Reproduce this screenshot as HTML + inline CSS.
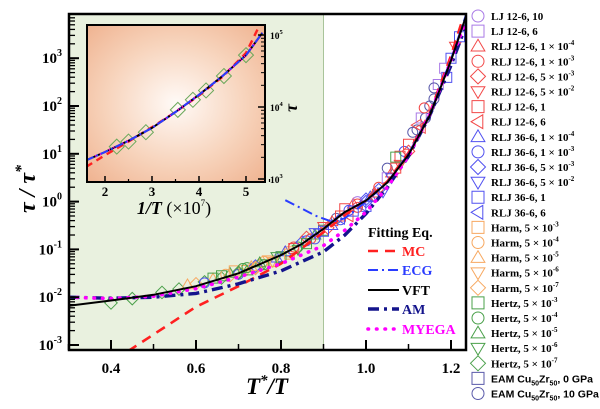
<!DOCTYPE html>
<html><head><meta charset="utf-8"><style>
html,body{margin:0;padding:0;background:#fff;}
svg{display:block;font-family:"Liberation Serif",serif;}
</style></head><body>
<svg id="chart" width="600" height="409" viewBox="0 0 600 409" xmlns="http://www.w3.org/2000/svg">
<defs>
<radialGradient id="insetBg" cx="0.5" cy="0.5" r="0.72">
<stop offset="0" stop-color="#fffaf7"/>
<stop offset="0.55" stop-color="#f7d3bb"/>
<stop offset="1" stop-color="#efb18e"/>
</radialGradient>
<clipPath id="mainClip"><rect x="69" y="14" width="397" height="336"/></clipPath>
<clipPath id="insetClip"><rect x="87" y="25" width="178" height="157"/></clipPath>
</defs>
<g id="plotBg">
<rect x="69" y="14" width="397" height="336" fill="#fff"/>
<rect id="greenRegion" x="69" y="14" width="254" height="336" fill="#e9f1df"/>
<line x1="323.5" y1="14" x2="323.5" y2="350" stroke="#a9c49a" stroke-width="1"/>
</g>
<g id="points" clip-path="url(#mainClip)"></g>
<g id="curves" clip-path="url(#mainClip)"></g>
<g id="axes"></g>
<g id="inset"></g>
<g id="fitLegend">
<text x="368" y="237" font-size="14" font-weight="bold">Fitting Eq.</text>
</g>
<g id="legend"></g>
<text transform="translate(35,189) rotate(-90)" text-anchor="middle" font-size="24" font-weight="bold" font-style="italic">τ / τ<tspan font-size="16" dy="-9">*</tspan></text>
<text x="267" y="394" text-anchor="middle" font-size="23" font-weight="bold" font-style="italic">T<tspan font-size="15" dy="-9">*</tspan><tspan dy="9">/T</tspan></text>
</svg>
<script>
// ---- main curve data (T*/T, log10 tau/tau*) ----
const vftU = [0.30,0.40,0.50,0.60,0.70,0.80,0.85,0.90,0.95,1.00,1.05,1.10,1.15,1.20,1.237];
const vftLog = [-2.18,-2.07,-1.95,-1.77,-1.50,-1.12,-0.88,-0.57,-0.22,0.02,0.40,0.98,1.80,2.95,3.92];
const mcU = [0.44,0.50,0.60,0.70,0.80,0.90,0.95,1.00,1.05,1.10,1.15,1.20,1.225];
const mcLog = [-3.13,-2.78,-2.20,-1.77,-1.30,-0.64,-0.28,0.02,0.42,1.02,1.85,3.05,3.75];
const ecgU = [0.81,0.85,0.88,0.92,0.95,1.00,1.05,1.10,1.15,1.20,1.235];
const ecgLog = [0.03,-0.15,-0.29,-0.42,-0.35,0.00,0.40,1.00,1.82,2.98,3.90];
const amU = [0.30,0.40,0.50,0.60,0.70,0.80,0.90,0.95,1.00,1.05,1.10,1.15,1.20,1.24];
const amLog = [-2.00,-2.02,-2.00,-1.92,-1.72,-1.45,-1.05,-0.70,-0.25,0.30,0.95,1.80,2.85,3.80];
const myU = [0.30,0.40,0.50,0.60,0.70,0.80,0.90,0.95,1.00,1.05,1.10,1.15,1.20,1.24];
const myLog = [-2.00,-2.03,-1.98,-1.82,-1.58,-1.30,-0.92,-0.60,-0.22,0.30,0.95,1.82,2.95,3.90];
// ---- scatter data ----
const ptU = [0.40,0.45,0.52,0.56,0.62,0.66,0.70,0.60,0.68,0.74,0.58,0.64,0.72,0.78,0.64,0.68,0.72,0.76,0.80,0.84,0.88,0.90,0.62,0.70,0.86,0.94,1.02,1.09,0.93,1.05,1.12,1.14,0.95,0.97,1.00,1.03,1.05,1.06,1.08,1.10,1.11,1.12,1.13,1.15,1.16,1.17,1.20,1.19,1.08,1.04,1.00,0.98,1.02,1.185,1.16,1.137,1.07,0.82,0.76,0.87,0.91,0.99,0.74,0.79,0.83,1.21,1.22,0.96,0.89,0.67,
 0.66,0.69,0.71,0.73,0.75,0.77,0.79,0.81,0.83,0.85,0.86,0.88,0.90,0.92,0.94,0.96,0.98,1.01,1.03,1.06,0.70,0.74,0.78,0.82,0.86,0.90,0.94,0.98,1.02,1.07,1.10,1.13,0.72,0.76,0.80,0.84,0.88,0.92,0.97,1.00];
const ptLog = [-2.12,-2.03,-1.90,-1.83,-1.68,-1.60,-1.50,-1.72,-1.55,-1.40,-1.74,-1.62,-1.42,-1.25,-1.60,-1.50,-1.38,-1.30,-1.15,-0.95,-0.70,-0.60,-1.70,-1.52,-0.82,-0.38,0.10,1.05,-0.35,0.70,1.50,1.75,-0.15,-0.05,0.05,0.30,0.50,0.60,0.95,1.20,1.45,1.60,1.75,2.00,2.15,2.45,3.00,2.60,0.78,0.20,-0.10,0.00,0.12,2.79,2.38,1.96,0.93,-1.05,-1.25,-0.78,-0.55,-0.08,-1.35,-1.18,-0.98,3.25,3.45,-0.30,-0.66,-1.52,
 -1.55,-1.45,-1.40,-1.36,-1.28,-1.22,-1.15,-1.05,-0.95,-0.85,-0.75,-0.65,-0.52,-0.42,-0.30,-0.18,-0.05,0.10,0.25,0.50,-1.48,-1.38,-1.26,-1.10,-0.88,-0.62,-0.35,-0.12,0.18,0.70,1.05,1.55,-1.45,-1.32,-1.18,-1.00,-0.78,-0.50,-0.20,0.00];
const ptSeries = [23,23,23,23,23,23,23,18,18,18,16,16,17,17,19,21,20,22,19,20,21,19,9,9,9,9,9,9,25,25,25,25,6,2,10,3,1,2,6,6,25,7,1,25,25,1,12,12,5,11,12,0,4,1,25,3,19,14,15,3,4,13,10,8,6,5,12,7,11,15,
 19,14,20,16,21,17,22,8,3,10,4,11,5,2,6,9,3,8,10,11,23,18,15,14,19,12,13,3,2,6,4,7,21,20,19,22,9,8,12,10];
// ---- inset data ----
const inX = [1.60,2.00,2.50,3.00,3.50,4.00,4.50,5.00,5.35];
const inLog = [3.26,3.375,3.53,3.71,3.93,4.17,4.43,4.72,5.03];
const inMcX = [1.60,2.00,2.50,3.00,3.50,4.00,4.50,5.00,5.30];
const inMcLog = [3.17,3.33,3.52,3.72,3.93,4.16,4.42,4.75,5.15];
const inPtX = [2.25,2.50,2.87,3.55,3.87,4.15,4.53,5.00];
const inPtLog = [3.45,3.52,3.65,3.96,4.10,4.23,4.43,4.72];
// ---- legend data ----
const legNames = ["LJ 12-6, 10","LJ 12-6, 6","RLJ 12-6, 1 × 10|-4","RLJ 12-6, 1 × 10|-3","RLJ 12-6, 5 × 10|-3","RLJ 12-6, 5 × 10|-2","RLJ 12-6, 1","RLJ 12-6, 6","RLJ 36-6, 1 × 10|-4","RLJ 36-6, 1 × 10|-3","RLJ 36-6, 5 × 10|-3","RLJ 36-6, 5 × 10|-2","RLJ 36-6, 1","RLJ 36-6, 6","Harm, 5 × 10|-3","Harm, 5 × 10|-4","Harm, 5 × 10|-5","Harm, 5 × 10|-6","Harm, 5 × 10|-7","Hertz, 5 × 10|-3","Hertz, 5 × 10|-4","Hertz, 5 × 10|-5","Hertz, 5 × 10|-6","Hertz, 5 × 10|-7","EAM","EAM"];
const legColors = ["#a97ae6","#a97ae6","#f24848","#f24848","#f24848","#f24848","#f24848","#f24848","#5050f0","#5050f0","#5050f0","#5050f0","#5050f0","#5050f0","#f7a860","#f7a860","#f7a860","#f7a860","#f7a860","#4aa04a","#4aa04a","#4aa04a","#4aa04a","#4aa04a","#5a5aaa","#5a5aaa"];
const legShapes = ["circle","square","up","circle","diamond","down","square","left","up","circle","diamond","down","square","left","square","circle","up","down","diamond","square","circle","up","down","diamond","square","circle"];

const NS="http://www.w3.org/2000/svg";
function xS(u){return 111+(u-0.4)*425;}
function yS(l){return 345-(l+3)*47.8;}
function ixS(v){return 105+(v-2)*47;}
function iyS(l){return 179-(l-3)*72;}
function mk(tag,parent){const e=document.createElementNS(NS,tag);parent.appendChild(e);return e;}
function shapePath(s,cx,cy,r){
 if(s==="square")return `M${cx-r},${cy-r}h${2*r}v${2*r}h${-2*r}Z`;
 if(s==="up")return `M${cx},${cy-r*1.15}L${cx+r*1.15},${cy+r*0.8}L${cx-r*1.15},${cy+r*0.8}Z`;
 if(s==="down")return `M${cx},${cy+r*1.15}L${cx+r*1.15},${cy-r*0.8}L${cx-r*1.15},${cy-r*0.8}Z`;
 if(s==="left")return `M${cx-r*1.15},${cy}L${cx+r*0.8},${cy-r*1.15}L${cx+r*0.8},${cy+r*1.15}Z`;
 if(s==="diamond")return `M${cx},${cy-r*1.25}L${cx+r*1.25},${cy}L${cx},${cy+r*1.25}L${cx-r*1.25},${cy}Z`;
 return `M${cx-r},${cy}a${r},${r} 0 1,0 ${2*r},0a${r},${r} 0 1,0 ${-2*r},0Z`;
}
function linePath(xs,ys,fx,fy){return xs.map((v,i)=>(i?"L":"M")+fx(v).toFixed(1)+","+fy(ys[i]).toFixed(1)).join("");}

// points
const pg=document.getElementById("points");
ptU.forEach((u,i)=>{
 const s=ptSeries[i];
 const p=mk("path",pg);
 
 
 p.setAttribute("d",shapePath(legShapes[s],xS(u),yS(ptLog[i]),5));
 p.setAttribute("fill","none");p.setAttribute("stroke",legColors[s]);p.setAttribute("stroke-width","1");
});
// curves
const cg=document.getElementById("curves");
const curveDefs=[
 {u:mcU,l:mcLog,c:"#ff2020",w:2.6,d:"10,7",n:"mc-curve",lc:"butt"},
 {u:ecgU,l:ecgLog,c:"#2a3cff",w:2,d:"10,4,2,4",n:"ecg-curve",lc:"butt"},
 {u:amU,l:amLog,c:"#14148c",w:3.4,d:"11,5,3,5",n:"am-curve",lc:"butt"},
 {u:myU,l:myLog,c:"#ff00ff",w:3.6,d:"0.5,8",n:"myega-curve",lc:"round"},
 {u:vftU,l:vftLog,c:"#000",w:2,d:"",n:"vft-curve",lc:"butt"}
];
curveDefs.forEach(cd=>{
 const p=mk("path",cg);
 
 
 p.setAttribute("d",linePath(cd.u,cd.l,xS,yS));
 p.setAttribute("fill","none");p.setAttribute("stroke",cd.c);p.setAttribute("stroke-width",cd.w);
 p.setAttribute("stroke-linecap",cd.lc);
 if(cd.d)p.setAttribute("stroke-dasharray",cd.d);
});
// axes
const ag=document.getElementById("axes");
const frame=mk("rect",ag);


frame.setAttribute("x",69);frame.setAttribute("y",14);frame.setAttribute("width",397);frame.setAttribute("height",336);
frame.setAttribute("fill","none");frame.setAttribute("stroke","#000");frame.setAttribute("stroke-width","2.5");
const xTicks=[0.4,0.6,0.8,1.0,1.2];
const xMinor=[0.3,0.5,0.7,0.9,1.1];
xTicks.forEach(t=>{
 const l=mk("line",ag);
 
 
 l.setAttribute("x1",xS(t));l.setAttribute("x2",xS(t));l.setAttribute("y1",350);l.setAttribute("y2",340);l.setAttribute("stroke","#000");l.setAttribute("stroke-width",2);
 const tx=mk("text",ag);
 
 
 tx.setAttribute("x",xS(t));tx.setAttribute("y",373);tx.setAttribute("text-anchor","middle");tx.setAttribute("font-size","15");tx.setAttribute("font-weight","bold");
 tx.textContent=t.toFixed(1);
});
xMinor.forEach(t=>{
 const l=mk("line",ag);
 
 
 l.setAttribute("x1",xS(t));l.setAttribute("x2",xS(t));l.setAttribute("y1",350);l.setAttribute("y2",344);l.setAttribute("stroke","#000");l.setAttribute("stroke-width",1.5);
});
const yDecades=[-3,-2,-1,0,1,2,3];
yDecades.forEach(d=>{
 const y=yS(d);
 const l=mk("line",ag);
 
 
 l.setAttribute("x1",69);l.setAttribute("x2",79);l.setAttribute("y1",y);l.setAttribute("y2",y);l.setAttribute("stroke","#000");l.setAttribute("stroke-width",2);
 const tx=mk("text",ag);
 
 
 tx.setAttribute("x",62);tx.setAttribute("y",y+5);tx.setAttribute("text-anchor","end");tx.setAttribute("font-size","15");tx.setAttribute("font-weight","bold");
 tx.innerHTML='10<tspan font-size="10" dy="-7">'+d+'</tspan>';
 for(let k=2;k<10;k++){
  const ym=yS(d+Math.log10(k));
  if(ym<16)continue;
  const m=mk("line",ag);
  
  
  m.setAttribute("x1",69);m.setAttribute("x2",75);m.setAttribute("y1",ym);m.setAttribute("y2",ym);m.setAttribute("stroke","#000");m.setAttribute("stroke-width",1.3);
 }
});
// inset
const ig=document.getElementById("inset");
const ibg=mk("rect",ig);


ibg.setAttribute("x",87);ibg.setAttribute("y",25);ibg.setAttribute("width",178);ibg.setAttribute("height",157);ibg.setAttribute("fill","url(#insetBg)");
const icg=mk("g",ig);icg.setAttribute("clip-path","url(#insetClip)");
inPtX.forEach((v,i)=>{
 const p=mk("path",icg);
 
 
 p.setAttribute("d",shapePath("diamond",ixS(v),iyS(inPtLog[i]),6));
 p.setAttribute("fill","none");p.setAttribute("stroke","#6aa85a");p.setAttribute("stroke-width","1");
});
[["#ff2020",2.4,"7,5",inMcX,inMcLog,"inset-mc-curve"],["#000",2,"",inX,inLog,"inset-vft-curve"],["#ff00ff",2.5,"1,4",inX,inLog,"inset-myega-curve"],["#2a3cff",2,"8,3,2,3",inX,inLog,"inset-ecg-curve"]].forEach(c=>{
 const p=mk("path",icg);
 
 
 p.setAttribute("d",linePath(c[3],c[4],ixS,iyS));p.setAttribute("fill","none");p.setAttribute("stroke",c[0]);p.setAttribute("stroke-width",c[1]);if(c[2])p.setAttribute("stroke-dasharray",c[2]);
});
const ifr=mk("rect",ig);


ifr.setAttribute("x",87);ifr.setAttribute("y",25);ifr.setAttribute("width",178);ifr.setAttribute("height",157);ifr.setAttribute("fill","none");ifr.setAttribute("stroke","#000");ifr.setAttribute("stroke-width","2");
const inXTicks=[2,3,4,5];
inXTicks.forEach(t=>{
 const l=mk("line",ig);
 
 
 l.setAttribute("x1",ixS(t));l.setAttribute("x2",ixS(t));l.setAttribute("y1",182);l.setAttribute("y2",176);l.setAttribute("stroke","#000");l.setAttribute("stroke-width",1.5);
 const m=mk("line",ig);
 
 
 m.setAttribute("x1",ixS(t+0.5));m.setAttribute("x2",ixS(t+0.5));m.setAttribute("y1",182);m.setAttribute("y2",179);m.setAttribute("stroke","#000");m.setAttribute("stroke-width",1.2);
 const tx=mk("text",ig);
 
 
 tx.setAttribute("x",ixS(t));tx.setAttribute("y",196);tx.setAttribute("text-anchor","middle");tx.setAttribute("font-size","13");tx.setAttribute("font-weight","bold");tx.textContent=t;
});
const inYTicks=[3,4,5];
inYTicks.forEach(d=>{
 const y=iyS(d);
 const l=mk("line",ig);
 
 
 l.setAttribute("x1",265);l.setAttribute("x2",258);l.setAttribute("y1",y);l.setAttribute("y2",y);l.setAttribute("stroke","#000");l.setAttribute("stroke-width",1.5);
 const tx=mk("text",ig);
 
 
 tx.setAttribute("x",270);tx.setAttribute("y",y+4);tx.setAttribute("font-size","9.5");tx.setAttribute("font-weight","bold");
 tx.innerHTML='10<tspan font-size="6.5" dy="-5">'+d+'</tspan>';
 if(d<5)for(let k=2;k<10;k++){
  const ym=iyS(d+Math.log10(k));
  const m=mk("line",ig);
  
  
  m.setAttribute("x1",265);m.setAttribute("x2",261);m.setAttribute("y1",ym);m.setAttribute("y2",ym);m.setAttribute("stroke","#000");m.setAttribute("stroke-width",1);
 }
});
const ixt=mk("text",ig);


ixt.setAttribute("x",174);ixt.setAttribute("y",214);ixt.setAttribute("text-anchor","middle");ixt.setAttribute("font-size","18");
ixt.innerHTML='<tspan font-style="italic" font-weight="bold">1/T</tspan> (×10<tspan font-size="9" dy="-8">7</tspan><tspan dy="8">)</tspan>';
const iyt=mk("text",ig);


iyt.setAttribute("transform","translate(297,108) rotate(-90)");iyt.setAttribute("text-anchor","middle");iyt.setAttribute("font-size","18");iyt.setAttribute("font-style","italic");iyt.setAttribute("font-weight","bold");
iyt.textContent="τ";
// fit legend
const fl=document.getElementById("fitLegend");
const fitNames=["MC","ECG","VFT","AM","MYEGA"];
const fitY=[251,270,290,309,329];
fitNames.forEach((n,i)=>{
 const cd=curveDefs[[0,1,4,2,3][i]];
 const l=mk("line",fl);
 
 
 l.setAttribute("x1",368);l.setAttribute("x2",399);l.setAttribute("y1",fitY[i]);l.setAttribute("y2",fitY[i]);
 l.setAttribute("stroke",cd.c);l.setAttribute("stroke-width",cd.w);l.setAttribute("stroke-linecap",cd.lc);if(cd.d)l.setAttribute("stroke-dasharray",cd.d);
 const t=mk("text",fl);
 
 
 t.setAttribute("x",402);t.setAttribute("y",fitY[i]+5);t.setAttribute("font-size","14");t.setAttribute("font-weight","bold");t.setAttribute("fill",cd.c);
 t.textContent=n;
});
// series legend
const lg=document.getElementById("legend");
legNames.forEach((n,i)=>{
 const y=16+i*15.1;
 const p=mk("path",lg);
 
 
 p.setAttribute("d",shapePath(legShapes[i],478,y,6));
 p.setAttribute("fill","none");p.setAttribute("stroke",legColors[i]);p.setAttribute("stroke-width","1");
 const t=mk("text",lg);
 
 
 t.setAttribute("x",491);t.setAttribute("y",y+4);t.setAttribute("font-size","11");t.setAttribute("font-weight","bold");
 if(i===24){t.setAttribute("font-family","Liberation Sans, sans-serif");t.setAttribute("font-size","10.5");t.innerHTML='EAM Cu<tspan font-size="7" dy="3">50</tspan><tspan dy="-3">Zr</tspan><tspan font-size="7" dy="3">50</tspan><tspan dy="-3">, 0 GPa</tspan>';}
 else if(i===25){t.setAttribute("font-family","Liberation Sans, sans-serif");t.setAttribute("font-size","10.5");t.innerHTML='EAM Cu<tspan font-size="7" dy="3">50</tspan><tspan dy="-3">Zr</tspan><tspan font-size="7" dy="3">50</tspan><tspan dy="-3">, 10 GPa</tspan>';}
 else if(n.indexOf("|")>=0){const parts=n.split("|");t.innerHTML=parts[0]+'<tspan font-size="7" dy="-5">'+parts[1]+'</tspan>';}
 else t.textContent=n;
});
</script>
</body></html>
